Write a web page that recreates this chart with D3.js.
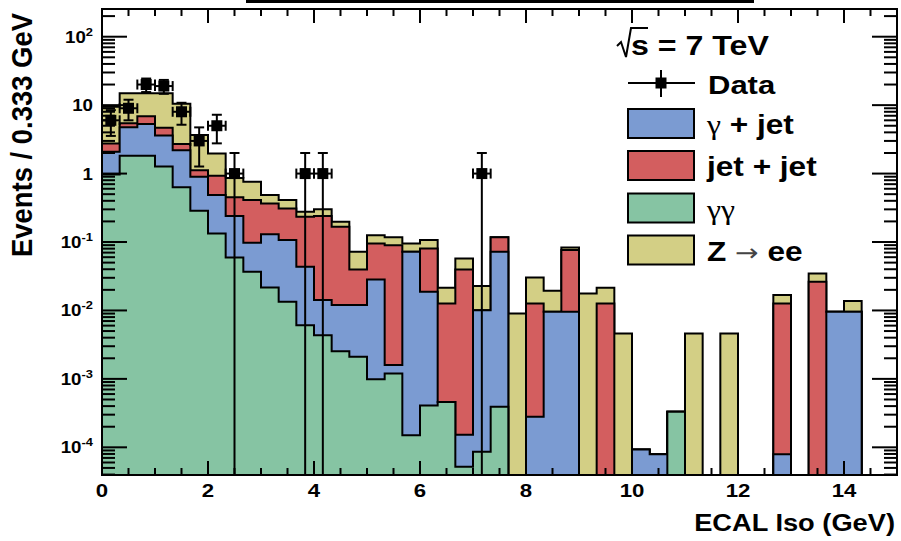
<!DOCTYPE html>
<html>
<head>
<meta charset="utf-8">
<script src="https://cdn.jsdelivr.net/npm/d3@7"></script>
<style>
body { margin: 0; background: #fff; }
text { font-family: "Liberation Sans", Arial, sans-serif; font-weight: bold; fill: #000; }
</style>
</head>
<body>
<script>
const width = 901;
const height = 541;

// ECAL isolation, 45 bins of 1/3 GeV from 0 to 15 GeV
const binCount = 45;
const xMax = 15;

// stacked components, bottom to top (events per bin)
const gammaGamma = [0.97, 1.82, 1.82, 1.27, 0.63, 0.286, 0.133, 0.0596, 0.0367, 0.0217,
    0.0134, 0.0061, 0.00435, 0.00254, 0.0021, 0.00099, 0.0012, 0.00015, 0.00041, 0.00046,
    0.000052, 0.000086, 0.00039, 0, 0, 0, 0, 0, 0, 0,
    0, 0, 0.00033, 0, 0, 0, 0, 0, 0, 0,
    0, 0, 0, 0, 0];
const gammaJet = [1.11, 2.93, 3.48, 2.33, 1.57, 0.614, 0.352, 0.18, 0.0607, 0.108,
    0.0936, 0.0373, 0.0099, 0.0095, 0.0099, 0.0274, 0.00039, 0.0719, 0.0183, 0,
    0.0001, 0.0100, 0.0716, 0, 0.00028, 0.00955, 0.00955, 0, 0, 0,
    0.000093, 0.000079, 0, 0, 0, 0, 0, 0, 0.000079, 0,
    0, 0.00955, 0.00955, 0, 0];
const jetJet = [0.68, 0.70, 1.6, 1.07, 0.5, 0.22, 0.445, 0.21, 0.3126, 0.236,
    0.203, 0.1906, 0.226, 0.155, 0.0277, 0.0669, 0.0884, 0, 0.0619, 0.0122,
    0.0396, 0, 0.045, 0, 0.0124, 0, 0.0667, 0, 0.01265, 0,
    0, 0, 0, 0, 0, 0, 0, 0, 0.0126, 0,
    0.0262, 0, 0, 0, 0];
const zee = [6.74, 9.45, 8.0, 10.23, 7.8, 2.53, 1.04, 0.41, 0.35, 0.119,
    0.10, 0.043, 0.06, 0.031, 0.0323, 0.0307, 0.027, 0.0233, 0.026, 0.0088,
    0.0179, 0.0126, 0, 0.00904, 0.0177, 0.0098, 0.007, 0.0177, 0.0088, 0.00461,
    0, 0, 0, 0.00461, 0, 0.00461, 0, 0, 0.0041, 0,
    0.0085, 0, 0.0042, 0, 0];
const dataCounts = [6, 9, 20, 19, 8, 3, 5, 1, 0, 0,
    0, 1, 1, 0, 0, 0, 0, 0, 0, 0,
    0, 1, 0, 0, 0, 0, 0, 0, 0, 0,
    0, 0, 0, 0, 0, 0, 0, 0, 0, 0,
    0, 0, 0, 0, 0];

const xTickLabels = [0, 2, 4, 6, 8, 10, 12, 14];
const yTickPowers = [-4, -3, -2, -1, 0, 1, 2];

const seriesKeys = ["gg", "gj", "jj", "zee"];
const seriesColors = { gg: "#86c4a3", gj: "#7b9bd2", jj: "#d35e5f", zee: "#d3cf85" };

const xTitle = "ECAL Iso (GeV)";
const yTitle = "Events / 0.333 GeV";

// the original picture is stretched sideways, text follows it
const sx = 1.17;

const svg = d3.select("body").append("svg")
    .attr("width", width)
    .attr("height", height);

const plot = { left: 102, right: 897, top: 9, bottom: 475 };
const yMin = 3.94e-5;
const yMax = 254;

const x = d3.scaleLinear().domain([0, xMax]).range([plot.left, plot.right]);
const y = d3.scaleLog().domain([yMin, yMax]).range([plot.bottom, plot.top]).clamp(true);
const binW = xMax / binCount;

svg.append("defs").append("clipPath").attr("id", "clip")
    .append("rect")
    .attr("x", plot.left).attr("y", plot.top)
    .attr("width", plot.right - plot.left).attr("height", plot.bottom - plot.top);

// title box edge at the top
svg.append("rect").attr("x", 246).attr("y", 0).attr("width", 508).attr("height", 3).attr("fill", "#000");

const rows = d3.range(binCount).map(i => ({
    bin: i, gg: gammaGamma[i], gj: gammaJet[i], jj: jetJet[i], zee: zee[i]
}));
const stacked = d3.stack().keys(seriesKeys)(rows);

const area = d3.area()
    .x(p => x(p[0]))
    .y0(plot.bottom + 2)
    .y1(p => y(Math.max(p[1], yMin)));

const hist = svg.append("g").attr("clip-path", "url(#clip)");

// draw the highest stack first, like THStack
for (let l = stacked.length - 1; l >= 0; l--) {
    const layer = stacked[l];
    const pts = [];
    layer.forEach((d, i) => {
        pts.push([i * binW, d[1]]);
        pts.push([(i + 1) * binW, d[1]]);
    });
    hist.append("path")
        .attr("d", area(pts))
        .attr("fill", seriesColors[layer.key])
        .attr("stroke", "#000")
        .attr("stroke-width", 2)
        .attr("stroke-linejoin", "miter");
}

// data points with poisson errors
const pts = dataCounts.map((n, i) => ({ n, i })).filter(d => d.n > 0);
const dg = svg.append("g").attr("clip-path", "url(#clip)")
    .attr("stroke", "#000").attr("stroke-width", 2);
const cap = 5;
pts.forEach(d => {
    const cx = x((d.i + 0.5) * binW);
    const cy = y(d.n);
    const err = Math.sqrt(d.n);
    const yHi = y(d.n + err);
    const low = d.n - err;
    const yLo = low > 0 ? y(low) : plot.bottom + 2;
    dg.append("line").attr("x1", cx).attr("x2", cx).attr("y1", yHi).attr("y2", yLo);
    dg.append("line").attr("x1", cx - cap).attr("x2", cx + cap).attr("y1", yHi).attr("y2", yHi);
    if (low > 0) dg.append("line").attr("x1", cx - cap).attr("x2", cx + cap).attr("y1", yLo).attr("y2", yLo);
    const xl = x(d.i * binW), xr = x((d.i + 1) * binW);
    dg.append("line").attr("x1", xl).attr("x2", xr).attr("y1", cy).attr("y2", cy);
    dg.append("line").attr("x1", xl).attr("x2", xl).attr("y1", cy - cap).attr("y2", cy + cap);
    dg.append("line").attr("x1", xr).attr("x2", xr).attr("y1", cy - cap).attr("y2", cy + cap);
    dg.append("rect").attr("x", cx - 5.5).attr("y", cy - 5.5).attr("width", 11).attr("height", 11)
        .attr("fill", "#000").attr("stroke", "none");
});

// axes: ticks on all four sides
const ax = svg.append("g").attr("stroke", "#000").attr("stroke-width", 2);
d3.range(0, xMax + 0.01, 0.5).forEach(v => {
    const len = v % 2 === 0 ? 14 : 7;
    ax.append("line").attr("x1", x(v)).attr("x2", x(v)).attr("y1", plot.bottom).attr("y2", plot.bottom - len);
    ax.append("line").attr("x1", x(v)).attr("x2", x(v)).attr("y1", plot.top).attr("y2", plot.top + len);
});
for (let k = -5; k <= 2; k++) {
    for (let m = 1; m <= 9; m++) {
        const v = m * Math.pow(10, k);
        if (v < yMin || v > yMax) continue;
        const len = m === 1 ? 25 : 13;
        ax.append("line").attr("x1", plot.left).attr("x2", plot.left + len).attr("y1", y(v)).attr("y2", y(v));
        ax.append("line").attr("x1", plot.right).attr("x2", plot.right - len).attr("y1", y(v)).attr("y2", y(v));
    }
}
svg.append("rect")
    .attr("x", plot.left).attr("y", plot.top)
    .attr("width", plot.right - plot.left).attr("height", plot.bottom - plot.top)
    .attr("fill", "none").attr("stroke", "#000").attr("stroke-width", 2);

function label(px, py, opts) {
    const g = svg.append("g")
        .attr("transform", `translate(${px},${py}) scale(${sx},1)` + (opts.rotate ? ` rotate(${opts.rotate})` : ""));
    const t = g.append("text")
        .attr("font-size", opts.size)
        .attr("text-anchor", opts.anchor || "start");
    return t;
}

xTickLabels.forEach(v => {
    label(x(v), 497, { size: 19, anchor: "middle" }).text(v);
});

yTickPowers.forEach(p => {
    const t = label(93, y(Math.pow(10, p)) + 6, { size: 16, anchor: "end" });
    if (p === 0) t.text("1");
    else if (p === 1) t.text("10");
    else {
        t.append("tspan").text("10");
        t.append("tspan").attr("dy", -7).attr("font-size", 11).text(p);
    }
});

label(895, 531, { size: 23.3, anchor: "end" }).text(xTitle);
label(32, 13, { size: 26, anchor: "end", rotate: -90 }).text(yTitle).attr("textLength", 244).attr("lengthAdjust", "spacingAndGlyphs");

// legend: root sign drawn with strokes, as ROOT's #sqrt does
svg.append("path")
    .attr("d", "M617,46 L621,42 L626,57 L631,28 L648,28")
    .attr("fill", "none").attr("stroke", "#000").attr("stroke-width", 2);
label(631, 55, { size: 27.5 }).text("s = 7 TeV");

const lg = svg.append("g").attr("stroke", "#000").attr("stroke-width", 2);
lg.append("line").attr("x1", 628).attr("x2", 695).attr("y1", 83).attr("y2", 83);
lg.append("line").attr("x1", 661).attr("x2", 661).attr("y1", 70).attr("y2", 97);
lg.append("rect").attr("x", 655.5).attr("y", 77.5).attr("width", 11).attr("height", 11).attr("fill", "#000").attr("stroke", "none");
label(708, 94, { size: 26.5 }).text("Data");

const legendOrder = ["gj", "jj", "gg", "zee"];
const legendTop = [109, 151, 193.5, 235.5];
legendOrder.forEach((k, i) => {
    lg.append("rect").attr("x", 628).attr("y", legendTop[i]).attr("width", 66).attr("height", 29)
        .attr("fill", seriesColors[k]);
    const t = label(707, legendTop[i] + 25, { size: 27 });
    if (k === "gj") {
        t.append("tspan").attr("font-weight", "normal").attr("font-family", "Liberation Serif").text("γ");
        t.append("tspan").text(" + jet");
    } else if (k === "jj") {
        t.text("jet + jet");
    } else if (k === "gg") {
        t.append("tspan").attr("font-weight", "normal").attr("font-family", "Liberation Serif").text("γγ");
    } else {
        t.append("tspan").text("Z ");
        t.append("tspan").attr("font-weight", "normal").attr("font-family", "DejaVu Sans")
            .attr("font-size", 24).attr("fill", "#444").text("→");
        t.append("tspan").text(" ee");
    }
});
</script>
</body>
</html>
